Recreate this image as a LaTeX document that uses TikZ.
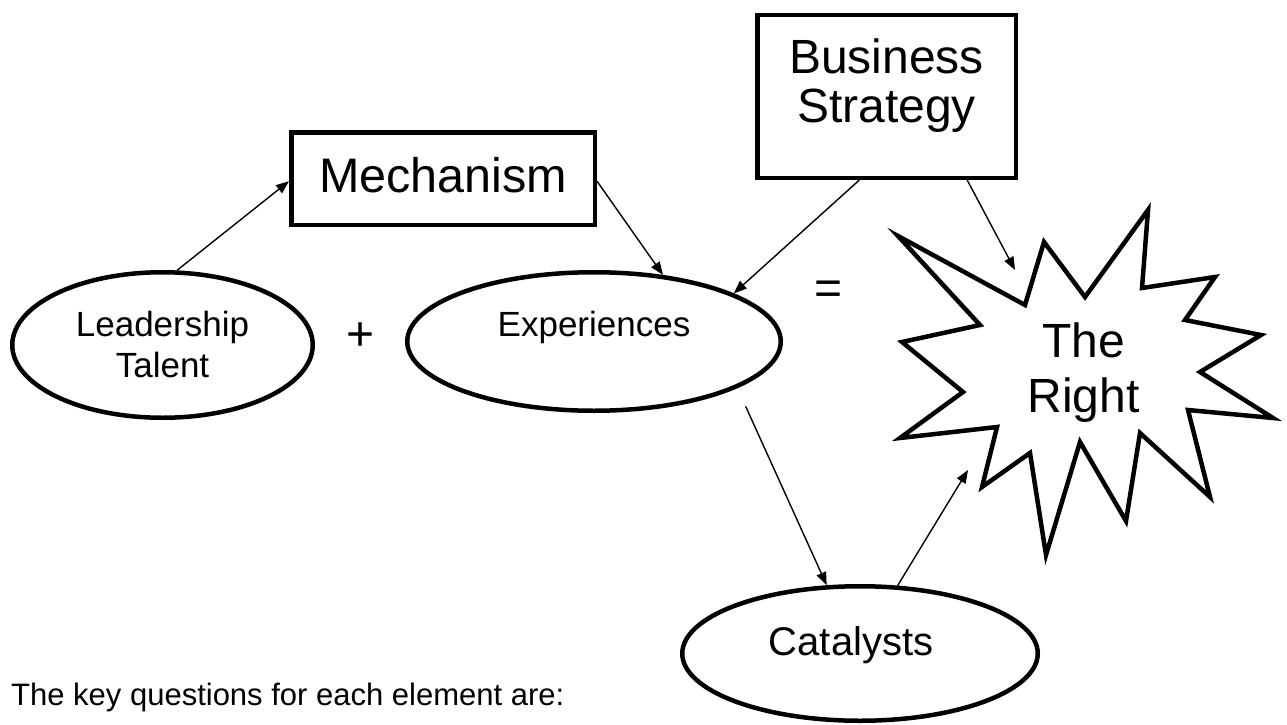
\documentclass[tikz,border=0pt]{standalone}
\usepackage{fontspec}
\setmainfont{Liberation Sans}
\usetikzlibrary{arrows.meta,shapes.geometric}
\begin{document}
\begin{tikzpicture}[x=1pt,y=-1pt,
  boxnode/.style={draw, line width=4.5pt, rectangle, inner sep=0pt, align=center},
  ellnode/.style={draw, line width=4.5pt, ellipse, inner sep=0pt, align=center},
  conn/.style={line width=1.4pt, -{Triangle[length=13pt,width=10pt]}},
  startline/.style={line width=4.5pt, line join=miter},
  plain/.style={inner sep=0pt}
  ]
\useasboundingbox (0,0) rectangle (1287,725);

% boxes
\node[boxnode, minimum width=303.5pt, minimum height=92.5pt,
      font=\fontsize{48.5}{55}\selectfont, text height=35.5pt, text depth=8.5pt]
      (mech) at (443,178.5) {Mechanism};
\node[boxnode, minimum width=258.5pt, minimum height=162.5pt,
      font=\fontsize{48}{49}\selectfont, text height=83.4pt, text depth=32.4pt]
      (bs) at (886.5,96.5) {Business\\Strategy};

% ellipses
\node[ellnode, minimum width=300.5pt, minimum height=145.5pt,
      font=\fontsize{35}{41}\selectfont, text height=65pt, text depth=0pt]
      (lt) at (162.5,345) {Leadership\\Talent};
\node[ellnode, minimum width=373.5pt, minimum height=138.5pt,
      font=\fontsize{35}{41}\selectfont, text height=25pt, text depth=35pt]
      (exp) at (594,341.5) {Experiences};
\node[ellnode, minimum width=355.5pt, minimum height=134.5pt,
      font=\fontsize{40}{46}\selectfont, text height=29pt, text depth=26pt]
      (cat) at (860,653.5) {\hspace*{-18pt}Catalysts};

% star
\draw[startline] (898,236) -- (1025,305) -- (1044,242) -- (1085,297)
  -- (1148,210) -- (1142,288) -- (1215,277) -- (1185,320)
  -- (1261,335) -- (1200,372) -- (1273,418) -- (1188,410)
  -- (1210,497) -- (1140,433) -- (1126,521) -- (1080,442)
  -- (1046,555) -- (1030,453) -- (982,487) -- (997,427)
  -- (900,438) -- (963,392) -- (902,342) -- (980,325) -- cycle;
\node[plain, align=center, font=\fontsize{48}{55}\selectfont,
      text height=89.4pt, text depth=10pt] (right) at (1083.5,372.3) {The\\Right};
\coordinate (rA) at (1015,270);
\coordinate (rB) at (968,470);

% operators
\node[plain, anchor=base, font=\fontsize{48}{55}\selectfont] (plus) at (361,350) {+};
\node[plain, anchor=base, font=\fontsize{48}{55}\selectfont] (eq) at (828.5,304) {=};

% caption
\node[plain, anchor=base west, font=\fontsize{31}{36}\selectfont] (keyq) at (11,705)
  {The key questions for each element are:};

% connectors
\draw[conn] (lt.79) -- (mech.181);
\draw[conn] (mech.-1) -- (exp.44);
\draw[conn] (bs.-108) -- (exp.19);
\draw[conn] (bs.-46) -- (rA);
\draw[conn, shorten <=20pt] (exp.-18) -- (cat.116);
\draw[conn] (cat.61) -- (rB);
\end{tikzpicture}
\end{document}
